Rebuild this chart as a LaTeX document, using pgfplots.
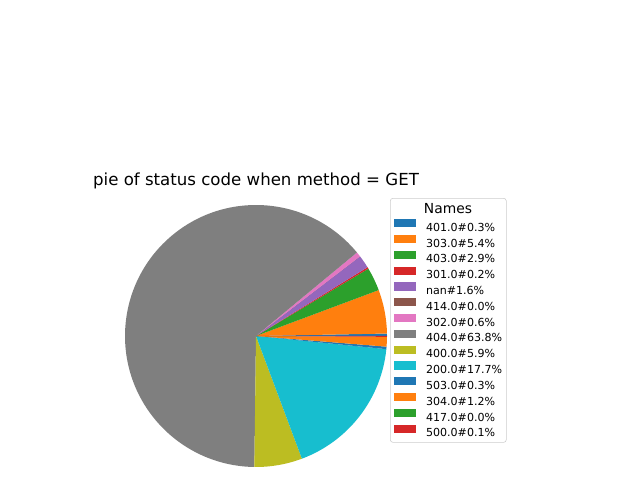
\documentclass[border=0pt]{standalone}
\usepackage{pgfplots}
\pgfplotsset{compat=1.18}
\usepackage{pgfplotstable}
\usepackage{fontspec}
\setmainfont{DejaVu Sans}

\definecolor{tabblue}{HTML}{1F77B4}
\definecolor{taborange}{HTML}{FF7F0E}
\definecolor{tabgreen}{HTML}{2CA02C}
\definecolor{tabred}{HTML}{D62728}
\definecolor{tabpurple}{HTML}{9467BD}
\definecolor{tabbrown}{HTML}{8C564B}
\definecolor{tabpink}{HTML}{E377C2}
\definecolor{tabgray}{HTML}{7F7F7F}
\definecolor{tabolive}{HTML}{BCBD22}
\definecolor{tabcyan}{HTML}{17BECF}

% share of each status code, GET requests
\pgfplotstableread{
code  pct   col
401.0 0.3   tabblue
303.0 5.4   taborange
403.0 2.9   tabgreen
301.0 0.2   tabred
nan   1.6   tabpurple
414.0 0.0   tabbrown
302.0 0.6   tabpink
404.0 63.8  tabgray
400.0 5.9   tabolive
200.0 17.7  tabcyan
503.0 0.3   tabblue
304.0 1.2   taborange
417.0 0.0   tabgreen
500.0 0.1   tabred
}\pietab

\newcommand{\lr}{\rule[-2.65pt]{0pt}{11.05pt}}

\begin{document}
\begin{tikzpicture}
\useasboundingbox (0,0) rectangle (6.4in,4.8in);
\node[anchor=base,font=\fontsize{12}{14}\selectfont] at (2.56in,2.94in)
  {pie of status code when method = GET};
\begin{axis}[
  at={(2.56in,1.44in)}, anchor=center,
  scale only axis, width=2.62in, height=2.62in,
  xmin=-1, xmax=1, ymin=-1, ymax=1,
  hide axis, clip=false,
  legend image code/.code={\fill[draw=none,sharp corners] (0pt,0pt) rectangle (15.84pt,5.9pt);},
  legend cell align=left,
  legend style={at={(1.0115,1.0267)}, anchor=north west,
    font=\fontsize{8}{9.6}\selectfont,
    draw=black!20, fill=white, rounded corners=2pt,
    inner xsep=3pt, inner ysep=1.4pt,
    nodes={inner sep=0pt, text depth=, text height=},
    column sep=7pt, row sep=0pt},
]
\addlegendimage{empty legend}
\addlegendentry{\hspace*{-1.5pt}\fontsize{10}{12}\selectfont Names\rule[-4.02pt]{0pt}{13.69pt}}
\def\anga{0}
\pgfplotsforeachungrouped \i in {0,...,13}{
  \pgfplotstablegetelem{\i}{pct}\of\pietab \let\pct\pgfplotsretval
  \pgfplotstablegetelem{\i}{col}\of\pietab \let\col\pgfplotsretval
  \pgfplotstablegetelem{\i}{code}\of\pietab \let\code\pgfplotsretval
  \pgfmathsetmacro\angb{\anga+3.6*\pct}
  \edef\temp{%
    \noexpand\fill[\col] (axis cs:0,0) -- (axis cs:{cos(\anga)},{sin(\anga)})
      arc[start angle=\anga, end angle=\angb, radius=1.31in] -- cycle;
    \noexpand\addlegendimage{fill=\col}
    \noexpand\addlegendentry{\code\noexpand\#\pct\noexpand\%\noexpand\lr}}
  \temp
  \let\anga\angb
}
\end{axis}
\end{tikzpicture}
\end{document}
